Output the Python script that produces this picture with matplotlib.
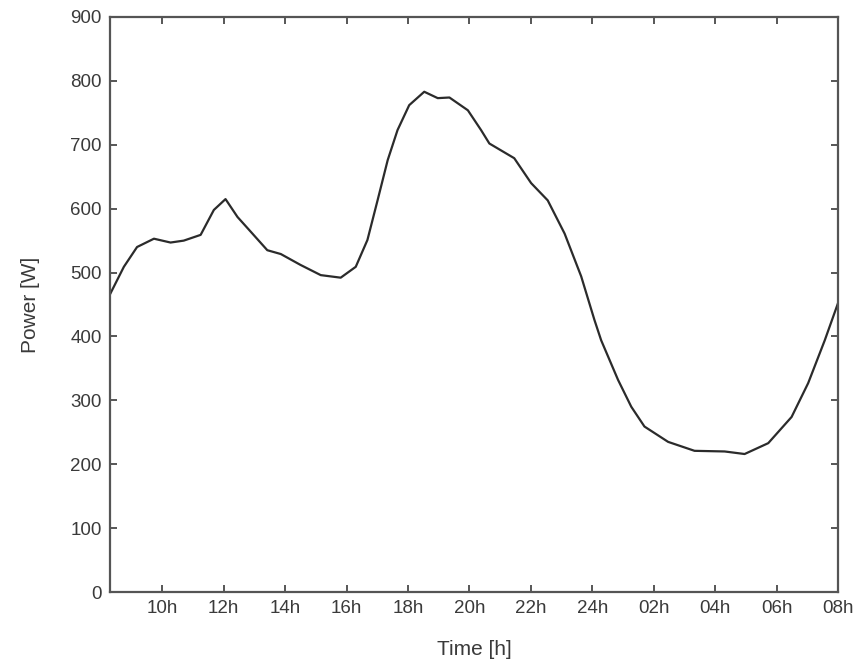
import matplotlib
matplotlib.use('Agg')
import matplotlib.pyplot as plt

# hours since midnight of day 1 (26 = 02h next day, 32 = 08h next day)
hours = [8.31, 8.75, 9.18, 9.73, 10.27, 10.70, 11.25, 11.68, 12.06, 12.45, 12.88,
         13.42, 13.86, 14.5, 15.16, 15.81, 16.30, 16.68, 17.01, 17.34, 17.66,
         18.04, 18.53, 18.97, 19.35, 19.95, 20.38, 20.65, 21.46, 22.01, 22.55,
         23.1, 23.64, 24.07, 24.29, 24.84, 25.27, 25.7, 26.47, 27.33, 28.31, 28.96,
         29.73, 30.49, 31.03, 31.57, 32.0]
power = [467, 509, 540, 553, 547, 550, 559, 598, 615, 587, 564,
         535, 529, 512, 496, 492, 509, 551, 613, 676, 723,
         762, 783, 773, 774, 754, 723, 702, 679, 640, 613,
         561, 494, 426, 394, 332, 290, 259, 235, 221, 220, 216,
         233, 274, 327, 394, 452]

tick_pos = [10, 12, 14, 16, 18, 20, 22, 24, 26, 28, 30, 32]
tick_labels = ['10h', '12h', '14h', '16h', '18h', '20h', '22h', '24h',
               '02h', '04h', '06h', '08h']

plt.rcParams['font.family'] = ['Liberation Sans', 'DejaVu Sans']
grey = '#3a3a3a'

fig = plt.figure(figsize=(8.63, 6.64), dpi=100)
ax = fig.add_axes([0.1275, 0.1084, 0.8435, 0.866])
ax.plot(hours, power, color='#2b2b2b', lw=1.6)

ax.set_xlim(8.3, 32)
ax.set_ylim(0, 900)
ax.set_xticks(tick_pos)
ax.set_xticklabels(tick_labels)
ax.set_yticks(range(0, 901, 100))
ax.tick_params(direction='in', top=True, right=True, length=5, width=1.2,
               colors=grey, labelsize=13.5, labelcolor=grey, pad=6)
for s in ax.spines.values():
    s.set_color('#555555')
    s.set_linewidth(1.6)

ax.set_xlabel('Time [h]', fontsize=15, color=grey, labelpad=16)
ax.set_ylabel('Power [W]', fontsize=15, color=grey, labelpad=22)

fig.savefig('out.png', dpi=100)
